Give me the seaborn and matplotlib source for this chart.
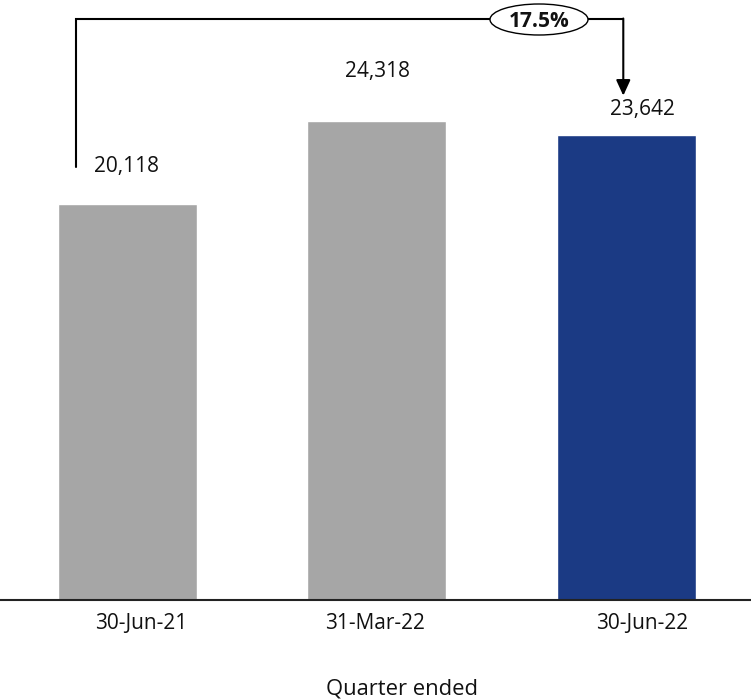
import numpy as np
import pandas as pd
import matplotlib
matplotlib.use("Agg")
import matplotlib.pyplot as plt
import seaborn as sns
from matplotlib.patches import Ellipse, FancyArrowPatch
from matplotlib.lines import Line2D
from matplotlib.transforms import IdentityTransform

# ---- data ----
quarters = ["30-Jun-21", "31-Mar-22", "30-Jun-22"]
deposits = [20118, 24318, 23642]
bar_colors = ["#A6A6A6", "#A6A6A6", "#1B3A84"]
growth_label = "17.5%"
x_title = "Quarter ended"

sns.set_theme(style="white")
plt.rcParams["font.family"] = ["Open Sans", "DejaVu Sans"]

W, H = 751, 699
fig = plt.figure(figsize=(W / 100, H / 100), dpi=100)
ax = fig.add_axes([0, 99 / H, 1, 600 / H])

df = pd.DataFrame({"quarter": quarters, "value": deposits})
sns.barplot(data=df, x="quarter", y="value", hue="quarter", palette=bar_colors,
            legend=False, width=0.557, saturation=1, ax=ax)

ax.set_xlim(-0.511, 2.5)
ax.set_ylim(0, 30482)
for s in ["top", "left", "right"]:
    ax.spines[s].set_visible(False)
ax.spines["bottom"].set_color("#222222")
ax.spines["bottom"].set_linewidth(1.5)
ax.set_xticks([])
ax.set_yticks([])
ax.set_xlabel("")
ax.set_ylabel("")

fs = 15
# value labels
val_dx = [-0.5, 0.5, 16]
val_dy = [32, 44, 20]
for i, v in enumerate(deposits):
    ax.annotate(f"{v:,}", xy=(i, v), xytext=(val_dx[i], val_dy[i]),
                textcoords="offset pixels", ha="center", va="baseline",
                fontsize=fs, color="#111111")

# category labels
tick_dx = [13.3, -1.5, 15.7]
for i, q in enumerate(quarters):
    ax.annotate(q, xy=(i, 0), xytext=(tick_dx[i], -29),
                textcoords="offset pixels", ha="center", va="baseline",
                fontsize=fs, color="#111111", annotation_clip=False)

fig.text(402 / W, (H - 694) / H, x_title, ha="center", va="baseline",
         fontsize=fs + 0.8, color="#111111")

# growth bracket
p0 = ax.transData.transform((0, deposits[0]))
p2 = ax.transData.transform((2, deposits[2]))
left_x = p0[0] - 51
bottom_y = p0[1] + 37
right_x = p2[0] - 3
tip_y = p2[1] + 39
top_y = H - 18.5

fig.add_artist(Line2D([left_x, left_x, right_x], [bottom_y, top_y, top_y],
                      transform=IdentityTransform(), color="black", lw=1.5,
                      solid_joinstyle="miter", zorder=3))
fig.add_artist(FancyArrowPatch(
    (right_x, top_y), (right_x, tip_y), transform=IdentityTransform(),
    arrowstyle="-|>,head_length=0.94,head_width=0.43", mutation_scale=10,
    color="black", lw=1.5, shrinkA=0, shrinkB=0, zorder=3))
fig.add_artist(Ellipse((539, H - 19.5), 98, 31, transform=IdentityTransform(),
                       facecolor="white", edgecolor="black", lw=1, zorder=4))
fig.text(539 / W, (H - 26.7) / H, growth_label, ha="center", va="baseline",
         fontsize=15, fontweight="bold", color="#111111", zorder=5)

fig.savefig("out.png", dpi=100)
